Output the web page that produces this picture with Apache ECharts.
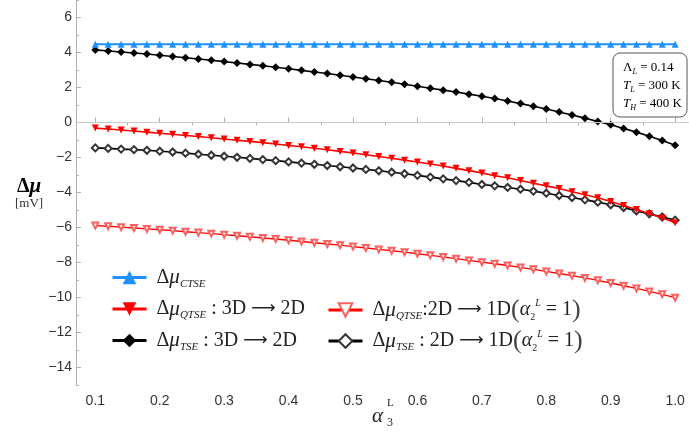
<!DOCTYPE html>
<html>
<head>
<meta charset="utf-8">
<script src="https://cdn.jsdelivr.net/npm/echarts@6/dist/echarts.min.js"></script>
<style>
html,body{margin:0;padding:0;background:#fff;}
#c{width:689px;height:434px;}
</style>
</head>
<body>
<div id="c"></div>
<script>
// ---- data ----
const alpha3 = [0.10,0.12,0.14,0.16,0.18,0.20,0.22,0.24,0.26,0.28,0.30,0.32,0.34,0.36,0.38,0.40,0.42,0.44,0.46,0.48,0.50,0.52,0.54,0.56,0.58,0.60,0.62,0.64,0.66,0.68,0.70,0.72,0.74,0.76,0.78,0.80,0.82,0.84,0.86,0.88,0.90,0.92,0.94,0.96,0.98,1.00];
const muCTSE = [4.47,4.47,4.47,4.47,4.47,4.47,4.47,4.47,4.47,4.47,4.47,4.47,4.47,4.47,4.47,4.47,4.47,4.47,4.47,4.47,4.47,4.47,4.47,4.47,4.47,4.47,4.47,4.47,4.47,4.47,4.47,4.47,4.47,4.47,4.47,4.47,4.47,4.47,4.47,4.47,4.47,4.47,4.47,4.47,4.47,4.47];
const muQTSE3D = [-0.32,-0.37,-0.43,-0.49,-0.55,-0.61,-0.67,-0.74,-0.80,-0.87,-0.94,-1.01,-1.08,-1.15,-1.23,-1.31,-1.39,-1.47,-1.56,-1.65,-1.74,-1.84,-1.94,-2.04,-2.15,-2.26,-2.37,-2.49,-2.62,-2.75,-2.88,-3.04,-3.16,-3.31,-3.47,-3.62,-3.77,-3.96,-4.13,-4.30,-4.51,-4.74,-4.97,-5.21,-5.45,-5.73];
const muTSE3D = [4.15,4.09,4.03,3.97,3.91,3.84,3.77,3.70,3.63,3.56,3.48,3.40,3.32,3.24,3.16,3.07,2.98,2.89,2.80,2.70,2.60,2.50,2.40,2.30,2.19,2.07,1.96,1.85,1.74,1.62,1.50,1.37,1.23,1.08,0.93,0.77,0.60,0.43,0.25,0.06,-0.13,-0.34,-0.55,-0.78,-1.03,-1.30];
const muQTSE2D = [-5.89,-5.93,-5.98,-6.03,-6.08,-6.13,-6.18,-6.24,-6.29,-6.35,-6.41,-6.47,-6.53,-6.60,-6.66,-6.73,-6.80,-6.87,-6.94,-7.01,-7.09,-7.17,-7.25,-7.33,-7.41,-7.50,-7.59,-7.68,-7.78,-7.88,-7.98,-8.07,-8.17,-8.28,-8.39,-8.51,-8.63,-8.75,-8.88,-9.02,-9.17,-9.33,-9.48,-9.65,-9.82,-10.01];
const muTSE2D = [-1.45,-1.48,-1.52,-1.55,-1.59,-1.64,-1.69,-1.75,-1.81,-1.87,-1.93,-1.99,-2.05,-2.12,-2.18,-2.25,-2.32,-2.39,-2.46,-2.53,-2.60,-2.68,-2.76,-2.84,-2.93,-3.02,-3.12,-3.22,-3.32,-3.42,-3.54,-3.62,-3.71,-3.81,-3.92,-4.04,-4.17,-4.29,-4.42,-4.55,-4.70,-4.86,-5.05,-5.22,-5.40,-5.58];
const xMajorTicks = [0.1,0.2,0.3,0.4,0.5,0.6,0.7,0.8,0.9,1.0];
const xMinorTicks = [0.15,0.25,0.35,0.45,0.55,0.65,0.75,0.85,0.95];
const yMajorTicks = [-14,-12,-10,-8,-6,-4,-2,0,2,4,6];
const yMinorTicks = [-15,-13,-11,-9,-7,-5,-3,-1,1,3,5,7];

const pairs = ys => alpha3.map((x,i)=>[x, ys[i]]);
const SERIF = 'Liberation Serif';
const SANS = 'Liberation Sans';

const legendFmt = {
  CTSE:   '{d|Δ}{m|μ}{s|CTSE}',
  QTSE3D: '{d|Δ}{m|μ}{s|QTSE}{t| : 3D }{ar|⟶}{t| 2D}',
  TSE3D:  '{d|Δ}{m|μ}{s|TSE}{t| : 3D }{ar|⟶}{t| 2D}',
  QTSE2D: '{d|Δ}{m|μ}{s|QTSE}{t|:2D }{ar|⟶}{t| 1D}{p|(}{a|α}{s2|2}{sp|L}{t| = 1}{p|)}',
  TSE2D:  '{d|Δ}{m|μ}{s|TSE}{t| : 2D }{ar|⟶}{t| 1D}{p|(}{a|α}{s2|2}{sp|L}{t| = 1}{p|)}'
};
const C = '#222';
const rich = {
  d:{fontFamily:SERIF,fontSize:20,color:C,lineHeight:24},
  m:{fontFamily:SERIF,fontSize:21,fontStyle:'italic',color:C,lineHeight:24},
  s:{fontFamily:SERIF,fontSize:11,fontStyle:'italic',color:C,verticalAlign:'bottom',lineHeight:15},
  t:{fontFamily:SERIF,fontSize:20,color:C,lineHeight:24},
  ar:{fontFamily:'DejaVu Sans',fontSize:17,color:C,lineHeight:24},
  p:{fontFamily:SERIF,fontSize:26,color:'#444',lineHeight:24},
  a:{fontFamily:SERIF,fontSize:20,fontStyle:'italic',color:C,lineHeight:24},
  s2:{fontFamily:SERIF,fontSize:10,color:C,verticalAlign:'bottom',lineHeight:15},
  sp:{fontFamily:SERIF,fontSize:10,fontStyle:'italic',color:C,verticalAlign:'top',lineHeight:15}
};

const chart = echarts.init(document.getElementById('c'), null, {renderer:'canvas'});
const axisGray = '#b0b0b0';
const minus = v => String(v).replace('-', '\u2212');

const legendCommon = {
  orient:'vertical', itemWidth:34, itemHeight:17,
  formatter:n=>legendFmt[n], textStyle:{rich:rich, padding:[0,0,0,5]},
  lineStyle:{width:3}, itemStyle:{borderWidth:2}
};

const option = {
  animation:false,
  backgroundColor:'#fff',
  grid:{left:76,right:1,top:0,bottom:49},
  xAxis:[{
    type:'value', min:0.07, max:1.02,
    axisLine:{show:true,lineStyle:{color:axisGray}},
    axisTick:{show:true,inside:true,length:5,customValues:xMajorTicks,lineStyle:{color:axisGray}},
    axisLabel:{customValues:xMajorTicks,fontFamily:SANS,fontSize:14,color:'#333',margin:9,
      formatter:v=>v.toFixed(1)},
    splitLine:{show:false}
  },{
    type:'value', min:0.07, max:1.02,
    axisLine:{show:false},
    axisTick:{show:true,inside:true,length:3,customValues:xMinorTicks,lineStyle:{color:axisGray}},
    axisLabel:{show:false}, splitLine:{show:false}
  }],
  yAxis:[{
    type:'value', min:-15, max:7,
    axisLine:{show:true,lineStyle:{color:axisGray}},
    axisTick:{show:true,inside:true,length:5,customValues:yMajorTicks,lineStyle:{color:axisGray}},
    axisLabel:{customValues:yMajorTicks,fontFamily:SANS,fontSize:14,color:'#333',margin:4,
      formatter:v=>minus(v)},
    splitLine:{show:false}
  },{
    type:'value', min:-15, max:7, position:'left',
    axisLine:{show:false},
    axisTick:{show:true,inside:true,length:3,customValues:yMinorTicks,lineStyle:{color:axisGray}},
    axisLabel:{show:false}, splitLine:{show:false}
  }],
  legend:[
    Object.assign({left:106, top:262, itemGap:9, data:['CTSE','QTSE3D','TSE3D']}, legendCommon),
    Object.assign({left:322, top:292, itemGap:5, data:['QTSE2D','TSE2D']}, legendCommon)
  ],
  series:[
    {name:'CTSE', type:'line', data:pairs(muCTSE), symbol:'triangle', symbolSize:7,
     lineStyle:{color:'#1E90FF',width:2}, itemStyle:{color:'#1E90FF'}, z:5,
     markLine:{silent:true,symbol:'none',label:{show:false},lineStyle:{color:'#c8c8c8',width:1,type:'solid'},
       data:[{yAxis:0}]}},
    {name:'QTSE3D', type:'line', data:pairs(muQTSE3D), symbol:'triangle', symbolRotate:180, symbolSize:7,
     lineStyle:{color:'#FF0000',width:1.6}, itemStyle:{color:'#FF0000'}, z:4},
    {name:'TSE3D', type:'line', data:pairs(muTSE3D), symbol:'diamond', symbolSize:8,
     lineStyle:{color:'#000',width:1.6}, itemStyle:{color:'#000'}, z:4},
    {name:'QTSE2D', type:'line', data:pairs(muQTSE2D), symbol:'emptyTriangle', symbolRotate:180, symbolSize:6,
     lineStyle:{color:'#FF0000',width:1.4}, itemStyle:{color:'#FF6060',borderWidth:1}, z:3},
    {name:'TSE2D', type:'line', data:pairs(muTSE2D), symbol:'emptyDiamond', symbolSize:7,
     lineStyle:{color:'#000',width:1.6}, itemStyle:{color:'#333',borderWidth:1}, z:3}
  ],
  graphic:[
    {type:'text', left:17, top:176, z:10, style:{
      text:'{d|Δ}{m|μ}', rich:{d:{fontFamily:SERIF,fontSize:20,fontWeight:'bold',color:'#222'},
        m:{fontFamily:SERIF,fontSize:21,fontStyle:'italic',fontWeight:'bold',color:'#222'}}}},
    {type:'text', left:15, top:197, z:10, style:{text:'[mV]',font:'13px "Liberation Serif"',fill:'#333'}},
    {type:'text', left:372, top:406, z:10, style:{text:'α',font:'italic 21px "Liberation Serif"',fill:'#222'}},
    {type:'text', left:387, top:398, z:10, style:{text:'L',font:'11px "Liberation Serif"',fill:'#222'}},
    {type:'text', left:387, top:417, z:10, style:{text:'3',font:'12px "Liberation Serif"',fill:'#222'}},
    {type:'rect', shape:{x:613,y:53,width:74,height:64,r:7}, z:20,
      style:{fill:'#fff',stroke:'#555',lineWidth:1}},
    {type:'text', left:623, top:61, z:21, style:{
      text:'{i|Λ}{s|L}{t| = 0.14}', rich:{i:{fontFamily:SERIF,fontSize:13,color:'#333'},
        s:{fontFamily:SERIF,fontSize:8,fontStyle:'italic',color:'#333',verticalAlign:'bottom',lineHeight:12},
        t:{fontFamily:SERIF,fontSize:13,color:'#333',lineHeight:16}}}},
    {type:'text', left:623, top:79, z:21, style:{
      text:'{i|T}{s|L}{t| = 300 K}', rich:{i:{fontFamily:SERIF,fontSize:13,fontStyle:'italic',color:'#333'},
        s:{fontFamily:SERIF,fontSize:8,fontStyle:'italic',color:'#333',verticalAlign:'bottom',lineHeight:12},
        t:{fontFamily:SERIF,fontSize:13,color:'#333',lineHeight:16}}}},
    {type:'text', left:623, top:97, z:21, style:{
      text:'{i|T}{s|H}{t| = 400 K}', rich:{i:{fontFamily:SERIF,fontSize:13,fontStyle:'italic',color:'#333'},
        s:{fontFamily:SERIF,fontSize:8,fontStyle:'italic',color:'#333',verticalAlign:'bottom',lineHeight:12},
        t:{fontFamily:SERIF,fontSize:13,color:'#333',lineHeight:16}}}}
  ]
};
chart.setOption(option);
</script>
</body>
</html>
